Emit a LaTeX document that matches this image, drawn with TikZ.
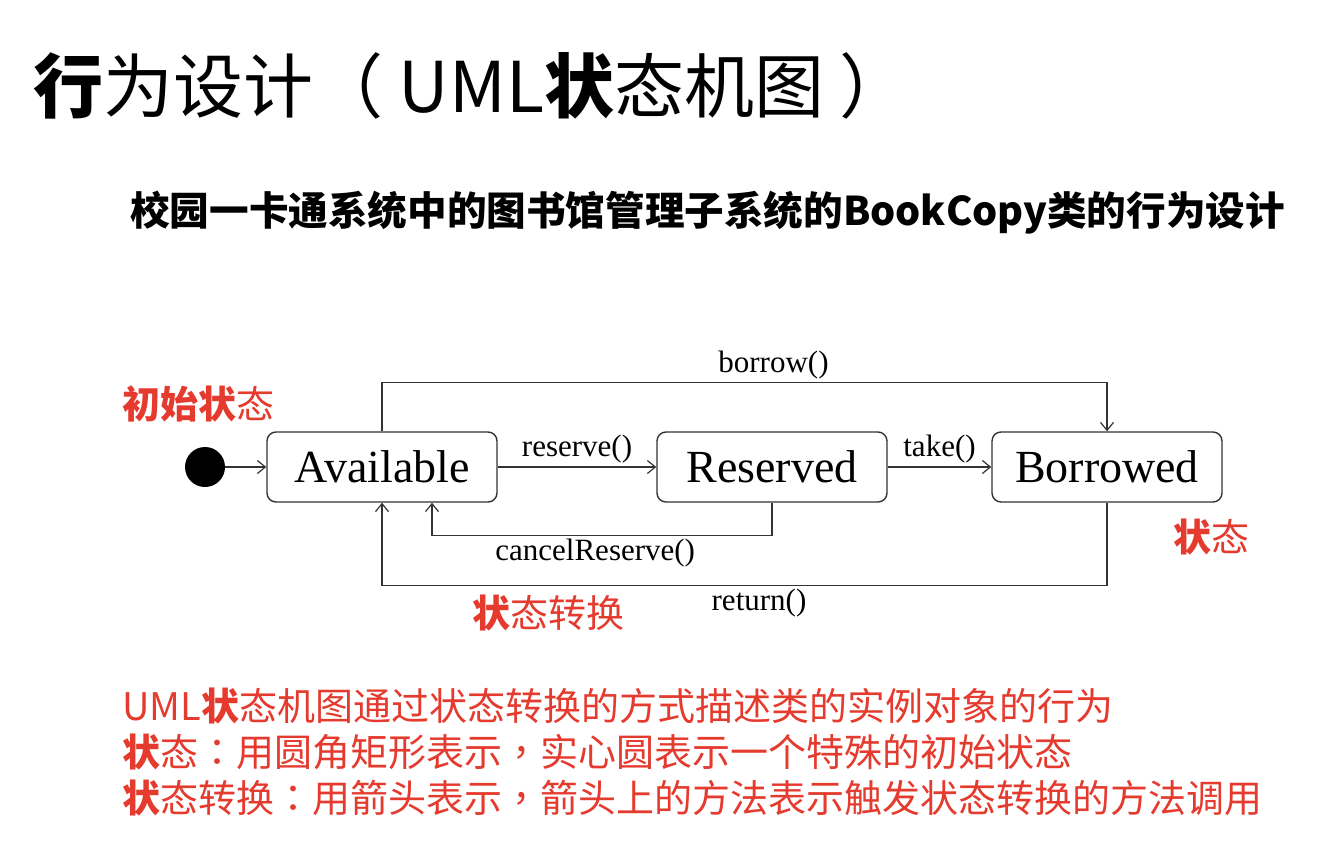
\documentclass[tikz,border=0pt]{standalone}
\usepackage{fontspec}
\usepackage{tikz}
\usetikzlibrary{arrows.meta}
\newfontfamily\cjk{Noto Sans CJK SC}
\newfontfamily\cjkpunct{Noto Sans CJK TC}
\newfontfamily\umlfont{Liberation Serif}
\definecolor{notered}{HTML}{E53A2E}
\newcommand{\cpunct}[1]{{\cjkpunct #1}}

\begin{document}
\begin{tikzpicture}[x=1pt, y=-1pt, >={Straight Barb[length=8pt, width=13pt]},
      state/.style = {rectangle, rounded corners=9pt,
        draw=black!80, line width=1.4pt, minimum width=230pt, minimum height=70pt,
        text centered, font=\umlfont\fontsize{46}{46}\selectfont},
      trans/.style = {->, line width=1.2pt, draw=black!80},
      lbl/.style = {font=\umlfont\fontsize{31}{31}\selectfont, inner sep=3pt},
      note/.style = {text=notered, font=\cjk\fontsize{38}{38}\selectfont, inner sep=0pt}]
      \useasboundingbox (0, 0) rectangle (1328, 846);
      \node[anchor=west, inner sep=0pt, font=\cjk\fontsize{70}{70}\selectfont] (title)
      at (33, 86) {{\bfseries 行}为设计（ UML{\bfseries 状}态机图 ）};
      \node[anchor=west, inner sep=0pt, font=\cjk\bfseries\fontsize{39.6}{40}\selectfont]
      (subtitle) at (130, 213) {校园一卡通系统中的图书馆管理子系统的BookCopy类的行为设计};
      \node[circle, fill=black, minimum size=40pt, inner sep=0pt] (init) at (205, 467) {};
      \node[state] (avail) at (382, 467) {Available};
      \node[state] (resv) at (772, 467) {Reserved};
      \node[state] (borr) at (1107, 467) {Borrowed};
      \draw[trans] (init) -- (avail);
      \draw[trans] (avail) -- node[lbl, above] {reserve()} (resv);
      \draw[trans] (resv) -- node[lbl, above] {take()} (borr);
      \draw[trans] (avail.north) -- ++(0, -49) -| node[lbl, pos=0.27, above]
      {borrow()} (borr.north);
      \draw[trans] (resv.south) -- ++(0, 33) -| node[lbl, pos=0.26, below]
      {cancelReserve()} ([xshift=50pt]avail.south);
      \draw[trans] (borr.south) -- ++(0, 83) -| node[lbl, pos=0.24, below]
      {return()} (avail.south);
      \node[note, anchor=west] (initnote) at (122, 404) {{\bfseries 初始状}态};
      \node[note, anchor=west] (statenote) at (1173, 537) {{\bfseries 状}态};
      \node[note, anchor=west] (transnote) at (472, 613) {{\bfseries 状}态转换};
      \node[note, anchor=west] (line1) at (122, 706)
      {UML{\bfseries 状}态机图通过状态转换的方式描述类的实例对象的行为};
      \node[note, anchor=west] (line2) at (122, 752)
      {{\bfseries 状}态\cpunct{：}用圆角矩形表示\cpunct{，}实心圆表示一个特殊的初始状态};
      \node[note, anchor=west] (line3) at (122, 798)
      {{\bfseries 状}态转换\cpunct{：}用箭头表示\cpunct{，}箭头上的方法表示触发状态转换的方法调用};
    \end{tikzpicture}
\end{document}
